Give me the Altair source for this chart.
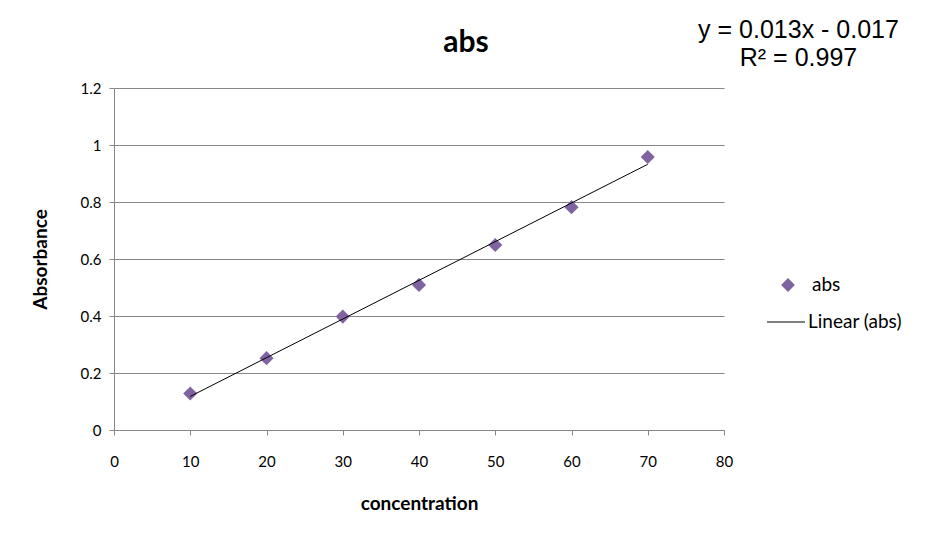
import altair as alt
import pandas as pd

concentration = [10, 20, 30, 40, 50, 60, 70]
absorbance = [0.128, 0.252, 0.398, 0.509, 0.649, 0.782, 0.958]
y_ticks = [0, 0.2, 0.4, 0.6, 0.8, 1.0, 1.2]
x_ticks = [0, 10, 20, 30, 40, 50, 60, 70, 80]
title_text = ["abs"]
equation_lines = ["y = 0.013x - 0.017", "R² = 0.997"]
legend_labels = ["abs", "Linear (abs)"]

PURPLE = "#8064A2"
GRID = "#868686"
FONT = "Lato"

df = pd.DataFrame({"concentration": concentration, "abs": absorbance})

x_enc = alt.X("concentration:Q", scale=alt.Scale(domain=[0, 80], nice=False),
              axis=alt.Axis(values=x_ticks, title="concentration", grid=False))
y_enc = alt.Y("abs:Q", scale=alt.Scale(domain=[0, 1.2], nice=False),
              axis=alt.Axis(values=y_ticks, title="Absorbance", format="~g", grid=True))

base = alt.Chart(df)

trend = base.transform_regression("concentration", "abs", method="linear").mark_line(
    color="black", strokeWidth=1
).encode(x=x_enc, y=y_enc)

points = base.mark_point(shape="diamond", filled=True, size=200, color=PURPLE, opacity=1).encode(
    x=x_enc, y=y_enc
)


def text_layer(t, x, y, **kw):
    return alt.Chart(pd.DataFrame({"t": [t]})).mark_text(**kw).encode(
        text="t:N", x=alt.value(x), y=alt.value(y)
    )


title = text_layer(title_text[0], 352, -36, font=FONT, fontSize=30, fontWeight="bold",
                   color="black", align="center", baseline="alphabetic")
eq1 = text_layer(equation_lines[0], 684.5, -58, font="Liberation Sans", fontSize=25,
                 color="black", align="center", baseline="middle")
eq2 = text_layer(equation_lines[1], 684.5, -30, font="Liberation Sans", fontSize=25,
                 color="black", align="center", baseline="middle")

leg_pt = alt.Chart(pd.DataFrame({"l": [legend_labels[0]]})).mark_point(
    shape="diamond", filled=True, size=190, color=PURPLE, opacity=1
).encode(x=alt.value(674), y=alt.value(197))
leg_line = alt.Chart(pd.DataFrame({"l": [legend_labels[1]]})).mark_rule(
    color="black", strokeWidth=1
).encode(x=alt.value(653), x2=alt.value(691), y=alt.value(234))
leg_t1 = text_layer(legend_labels[0], 698, 197, font=FONT, fontSize=19, align="left",
                    baseline="middle", color="black")
leg_t2 = text_layer(legend_labels[1], 694, 234, font=FONT, fontSize=19, align="left",
                    baseline="middle", color="black")

chart = alt.layer(points, trend, title, eq1, eq2, leg_pt, leg_line, leg_t1, leg_t2).properties(
    width=610,
    height=342,
    autosize=alt.AutoSizeParams(type="none"),
    padding={"left": 106, "top": 80, "right": 201, "bottom": 104},
    background="white",
).configure_view(stroke=None).configure_axis(
    labelFont=FONT, labelFontSize=15, labelColor="black", labelFlush=False,
    titleFont=FONT, titleFontSize=19, titleFontWeight="bold", titleColor="black",
    domainColor=GRID, tickColor=GRID, gridColor=GRID, tickSize=5,
).configure_axisY(labelPadding=8, titlePadding=30).configure_axisX(
    labelPadding=19, titlePadding=25
)

chart.save("out.html", embed_options={"renderer": "svg", "actions": False})
